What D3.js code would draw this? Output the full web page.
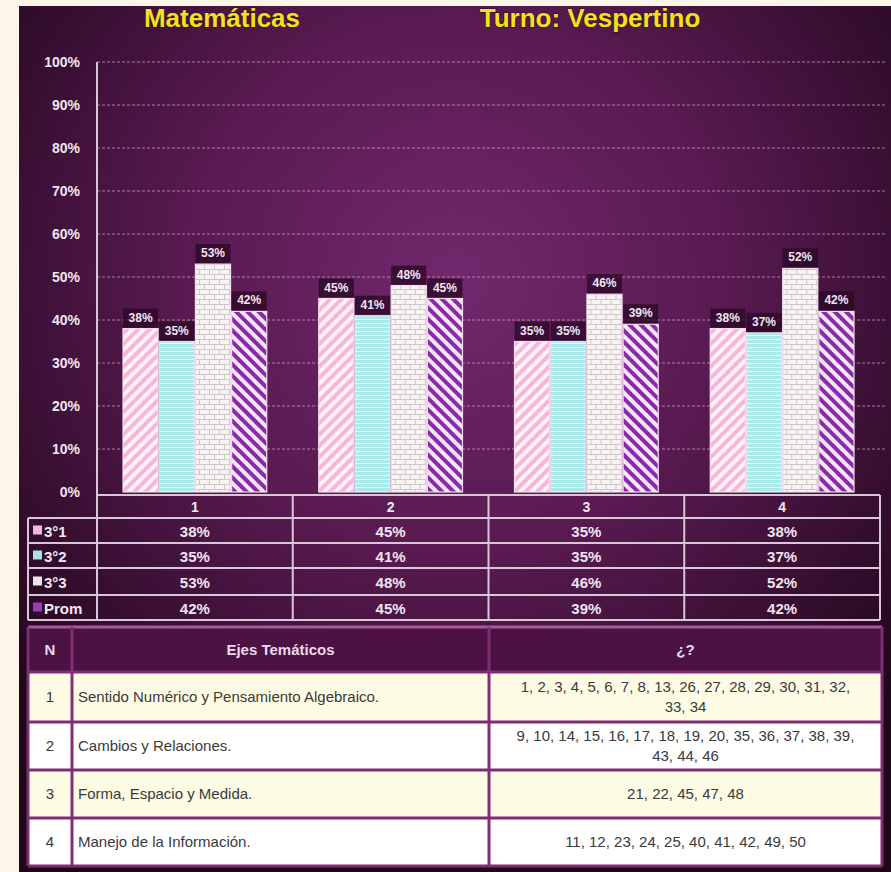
<!DOCTYPE html>
<html>
<head>
<meta charset="utf-8">
<script src="https://cdn.jsdelivr.net/npm/d3@7/dist/d3.min.js"></script>
<style>
  html, body { margin: 0; padding: 0; background: #fcf5e8; }
  svg { display: block; }
</style>
</head>
<body>
<svg id="chart" width="891" height="872"></svg>
<script>
// ---------- DATA ----------
const categories = ["1", "2", "3", "4"];
const seriesNames = ["3°1", "3°2", "3°3", "Prom"];
const s31 = [38, 45, 35, 38];
const s32 = [35, 41, 35, 37];
const s33 = [53, 48, 46, 52];
const prom = [42, 45, 39, 42];
const yTicks = [0, 10, 20, 30, 40, 50, 60, 70, 80, 90, 100];
const titleLeft = "Matemáticas";
const titleRight = "Turno: Vespertino";
const ejesHeader = ["N", "Ejes Temáticos", "¿?"];
const ejesN = ["1", "2", "3", "4"];
const ejesNames = [
  "Sentido Numérico y Pensamiento Algebraico.",
  "Cambios y Relaciones.",
  "Forma, Espacio y Medida.",
  "Manejo de la Información."
];
const ejesItems = [
  "1, 2, 3, 4, 5, 6, 7, 8, 13, 26, 27, 28, 29, 30, 31, 32, 33, 34",
  "9, 10, 14, 15, 16, 17, 18, 19, 20, 35, 36, 37, 38, 39, 43, 44, 46",
  "21, 22, 45, 47, 48",
  "11, 12, 23, 24, 25, 40, 41, 42, 49, 50"
];

const seriesValues = [s31, s32, s33, prom];
const table = seriesNames.map((name, i) => ({ name, values: seriesValues[i] }));

// ---------- SETUP ----------
const svg = d3.select("#chart");
const defs = svg.append("defs");
const FONT = "'Liberation Sans', Arial, sans-serif";

// background gradient
const rg = defs.append("radialGradient").attr("id", "bg")
  .attr("cx", "50%").attr("cy", "32%").attr("r", "70%");
rg.append("stop").attr("offset", "0").attr("stop-color", "#72286d");
rg.append("stop").attr("offset", "0.45").attr("stop-color", "#581a50");
rg.append("stop").attr("offset", "0.8").attr("stop-color", "#330d2d");
rg.append("stop").attr("offset", "1").attr("stop-color", "#1f0619");

// patterns
function diag(id, c1, c2, size, angle) {
  const p = defs.append("pattern").attr("id", id).attr("patternUnits", "userSpaceOnUse")
    .attr("width", size).attr("height", size)
    .attr("patternTransform", `rotate(${angle})`);
  p.append("rect").attr("width", size).attr("height", size).attr("fill", c1);
  p.append("rect").attr("width", size / 2).attr("height", size).attr("fill", c2);
}
diag("pPink", "#f6b6d6", "#fff2fa", 8, 45);
diag("pProm", "#8a2aa6", "#f6e6fb", 8, -45);
(function () {
  const p = defs.append("pattern").attr("id", "pCyan").attr("patternUnits", "userSpaceOnUse")
    .attr("width", 8).attr("height", 4);
  p.append("rect").attr("width", 8).attr("height", 4).attr("fill", "#a9eaea");
  p.append("rect").attr("y", 3).attr("width", 8).attr("height", 1).attr("fill", "#eafcfc");
})();
(function () {
  const p = defs.append("pattern").attr("id", "pBrick").attr("patternUnits", "userSpaceOnUse")
    .attr("width", 10).attr("height", 10);
  p.append("rect").attr("width", 10).attr("height", 10).attr("fill", "#f8f4f4");
  p.append("rect").attr("y", 4).attr("width", 10).attr("height", 1).attr("fill", "#cfc6c8");
  p.append("rect").attr("y", 9).attr("width", 10).attr("height", 1).attr("fill", "#cfc6c8");
  p.append("rect").attr("x", 2).attr("y", 0).attr("width", 1).attr("height", 5).attr("fill", "#cfc6c8");
  p.append("rect").attr("x", 7).attr("y", 5).attr("width", 1).attr("height", 5).attr("fill", "#cfc6c8");
})();
const fills = { "3°1": "url(#pPink)", "3°2": "url(#pCyan)", "3°3": "url(#pBrick)", "Prom": "url(#pProm)" };
const swatch = { "3°1": "#f2bcd9", "3°2": "#a6e2e6", "3°3": "#e9e6e8", "Prom": "#9b3cb2" };

// panel
svg.append("rect").attr("x", 19).attr("y", 6).attr("width", 872).attr("height", 866).attr("fill", "url(#bg)");

// title
svg.append("g").selectAll("text").data([[titleLeft, 222], [titleRight, 590]]).join("text")
  .attr("x", d => d[1]).attr("y", 27).attr("text-anchor", "middle")
  .attr("font-family", FONT).attr("font-weight", "bold").attr("font-size", 26)
  .attr("fill", "#f2e21c").attr("stroke", "#3a0f30").attr("stroke-width", 1.5)
  .attr("paint-order", "stroke")
  .text(d => d[0]);

// ---------- SCALES ----------
const xLeft = 97, xRight = 880;
const y = d3.scaleLinear().domain([0, 100]).range([492, 62]);
const x0 = d3.scaleBand().domain(categories).range([xLeft, xRight]);
const inset = 26;
const x1 = d3.scaleBand().domain(seriesNames).range([inset, x0.bandwidth() - inset]).paddingInner(0.03);

// gridlines
svg.append("g").selectAll("line").data(yTicks.filter(t => t > 0)).join("line")
  .attr("x1", xLeft).attr("x2", 885)
  .attr("y1", d => y(d)).attr("y2", d => y(d))
  .attr("stroke", "#d4a8cc").attr("stroke-opacity", 0.7)
  .attr("stroke-dasharray", "3,2").attr("stroke-width", 1);

// y axis labels
const yAxis = svg.append("g").attr("transform", `translate(${xLeft},0)`)
  .call(d3.axisLeft(y).tickValues(yTicks).tickFormat(d => d + "%").tickSize(0).tickPadding(17));
yAxis.select(".domain").remove();
yAxis.selectAll("text").attr("font-family", FONT).attr("font-weight", "bold")
  .attr("font-size", 14).attr("fill", "#f1e6f0");

// bars
const groups = svg.append("g").selectAll("g").data(categories).join("g")
  .attr("transform", d => `translate(${x0(d)},0)`);
groups.selectAll("rect.bar").data((c, ci) => table.map(s => ({ name: s.name, v: s.values[ci] })))
  .join("rect").attr("class", "bar")
  .attr("x", d => x1(d.name)).attr("width", x1.bandwidth())
  .attr("y", d => y(d.v)).attr("height", d => y(0) - y(d.v))
  .attr("fill", d => fills[d.name]).attr("stroke", "#f3dcef").attr("stroke-width", 1.2);

// labels with dark boxes
groups.selectAll("rect.lb").data((c, ci) => table.map(s => ({ name: s.name, v: s.values[ci] })))
  .join("rect").attr("class", "lb")
  .attr("x", d => x1(d.name)).attr("width", x1.bandwidth())
  .attr("y", d => y(d.v) - 20).attr("height", 19)
  .attr("fill", "#2a0824").attr("opacity", 0.75);
groups.selectAll("text.lbl").data((c, ci) => table.map(s => ({ name: s.name, v: s.values[ci] })))
  .join("text").attr("class", "lbl")
  .attr("x", d => x1(d.name) + x1.bandwidth() / 2).attr("y", d => y(d.v) - 7)
  .attr("text-anchor", "middle").attr("font-family", FONT).attr("font-weight", "bold")
  .attr("font-size", 12).attr("fill", "#f2e4f0")
  .text(d => d.v + "%");

// ---------- DATA TABLE ----------
const tb = svg.append("g");
const rowY = [495, 518, 543, 568, 595, 620];
const lineCol = "#d9c6d6";
const labelLeft = 28;
tb.selectAll("line.h").data(rowY).join("line").attr("class", "h")
  .attr("x1", (d, i) => i === 0 ? xLeft : labelLeft).attr("x2", xRight)
  .attr("y1", d => d).attr("y2", d => d).attr("stroke", lineCol).attr("stroke-width", 2);
tb.append("line").attr("x1", labelLeft).attr("x2", labelLeft).attr("y1", rowY[1]).attr("y2", rowY[5])
  .attr("stroke", lineCol).attr("stroke-width", 2);
tb.append("line").attr("x1", xLeft).attr("x2", xLeft).attr("y1", 62).attr("y2", rowY[5])
  .attr("stroke", lineCol).attr("stroke-width", 2);
tb.selectAll("line.v").data(categories).join("line").attr("class", "v")
  .attr("x1", d => x0(d) + x0.bandwidth()).attr("x2", d => x0(d) + x0.bandwidth())
  .attr("y1", rowY[0]).attr("y2", rowY[5]).attr("stroke", lineCol).attr("stroke-width", 2);
tb.selectAll("text.cat").data(categories).join("text").attr("class", "cat")
  .attr("x", d => x0(d) + x0.bandwidth() / 2).attr("y", (rowY[0] + rowY[1]) / 2 + 5)
  .attr("text-anchor", "middle").attr("font-family", FONT).attr("font-weight", "bold")
  .attr("font-size", 14).attr("fill", "#f1e6f0").text(d => d);
const rows = tb.selectAll("g.row").data(table).join("g").attr("class", "row");
rows.append("rect").attr("x", 33).attr("y", (d, i) => (rowY[i + 1] + rowY[i + 2]) / 2 - 5)
  .attr("width", 9).attr("height", 9).attr("fill", d => swatch[d.name]);
rows.append("text").attr("x", 44).attr("y", (d, i) => (rowY[i + 1] + rowY[i + 2]) / 2 + 6)
  .attr("font-family", FONT).attr("font-weight", "bold").attr("font-size", 15)
  .attr("fill", "#f4eaf3").text(d => d.name);
rows.selectAll("text.val").data(d => d.values.map((v, ci) => ({ v, c: categories[ci] })))
  .join("text").attr("class", "val")
  .attr("x", d => x0(d.c) + x0.bandwidth() / 2)
  .attr("y", function () {
    const i = table.indexOf(d3.select(this.parentNode).datum());
    return (rowY[i + 1] + rowY[i + 2]) / 2 + 6;
  })
  .attr("text-anchor", "middle").attr("font-family", FONT).attr("font-weight", "bold")
  .attr("font-size", 15).attr("fill", "#f1e4f0").text(d => d.v + "%");

// ---------- EJES TABLE ----------
const et = svg.append("g");
const colX = [28, 72, 489, 882];
const eRowY = [627, 672, 722, 770, 818, 866];
const rowFill = ["#fdfbe4", "#ffffff", "#fdfbe4", "#ffffff"];
const border = "#7e2f73";
et.append("rect").attr("x", colX[0]).attr("y", eRowY[0]).attr("width", colX[3] - colX[0])
  .attr("height", eRowY[1] - eRowY[0]).attr("fill", "#4c1244");
et.selectAll("rect.er").data(ejesN).join("rect").attr("class", "er")
  .attr("x", colX[0]).attr("y", (d, i) => eRowY[i + 1]).attr("width", colX[3] - colX[0])
  .attr("height", (d, i) => eRowY[i + 2] - eRowY[i + 1]).attr("fill", (d, i) => rowFill[i]);
et.selectAll("line.eh").data(eRowY).join("line").attr("class", "eh")
  .attr("x1", colX[0]).attr("x2", colX[3]).attr("y1", d => d).attr("y2", d => d)
  .attr("stroke", (d, i) => i === 0 ? "#a65a98" : border).attr("stroke-width", 3);
et.selectAll("line.ev").data(colX).join("line").attr("class", "ev")
  .attr("x1", d => d).attr("x2", d => d).attr("y1", eRowY[0]).attr("y2", eRowY[5])
  .attr("stroke", border).attr("stroke-width", 3);
et.selectAll("text.eht").data(ejesHeader).join("text").attr("class", "eht")
  .attr("x", (d, i) => (colX[i] + colX[i + 1]) / 2).attr("y", (eRowY[0] + eRowY[1]) / 2 + 5)
  .attr("text-anchor", "middle").attr("font-family", FONT).attr("font-weight", "bold")
  .attr("font-size", 15).attr("fill", "#eadbe8").text(d => d);
et.selectAll("text.en").data(ejesN).join("text").attr("class", "en")
  .attr("x", (colX[0] + colX[1]) / 2).attr("y", (d, i) => (eRowY[i + 1] + eRowY[i + 2]) / 2 + 5)
  .attr("text-anchor", "middle").attr("font-family", FONT).attr("font-size", 15)
  .attr("fill", "#3a3a3a").text(d => d);
et.selectAll("text.enm").data(ejesNames).join("text").attr("class", "enm")
  .attr("x", colX[1] + 6).attr("y", (d, i) => (eRowY[i + 1] + eRowY[i + 2]) / 2 + 5)
  .attr("font-family", FONT).attr("font-size", 15).attr("fill", "#3a3a3a").text(d => d);
const wrapW = 345;
et.selectAll("text.eit").data(ejesItems).join("text").attr("class", "eit")
  .attr("text-anchor", "middle").attr("font-family", FONT).attr("font-size", 15).attr("fill", "#3a3a3a")
  .each(function (d, i) {
    const t = d3.select(this);
    const cx = (colX[2] + colX[3]) / 2;
    const words = d.split(" ");
    const lines = [];
    let cur = [];
    const probe = t.append("tspan");
    words.forEach(w => {
      const test = cur.concat([w]).join(" ");
      probe.text(test);
      if (probe.node().getComputedTextLength() > wrapW && cur.length) {
        lines.push(cur.join(" "));
        cur = [w];
      } else cur.push(w);
    });
    lines.push(cur.join(" "));
    probe.remove();
    const cy = (eRowY[i + 1] + eRowY[i + 2]) / 2;
    const lh = 20;
    lines.forEach((ln, k) => {
      t.append("tspan").attr("x", cx)
        .attr("y", cy + 5 + (k - (lines.length - 1) / 2) * lh).text(ln);
    });
  });
</script>
</body>
</html>
